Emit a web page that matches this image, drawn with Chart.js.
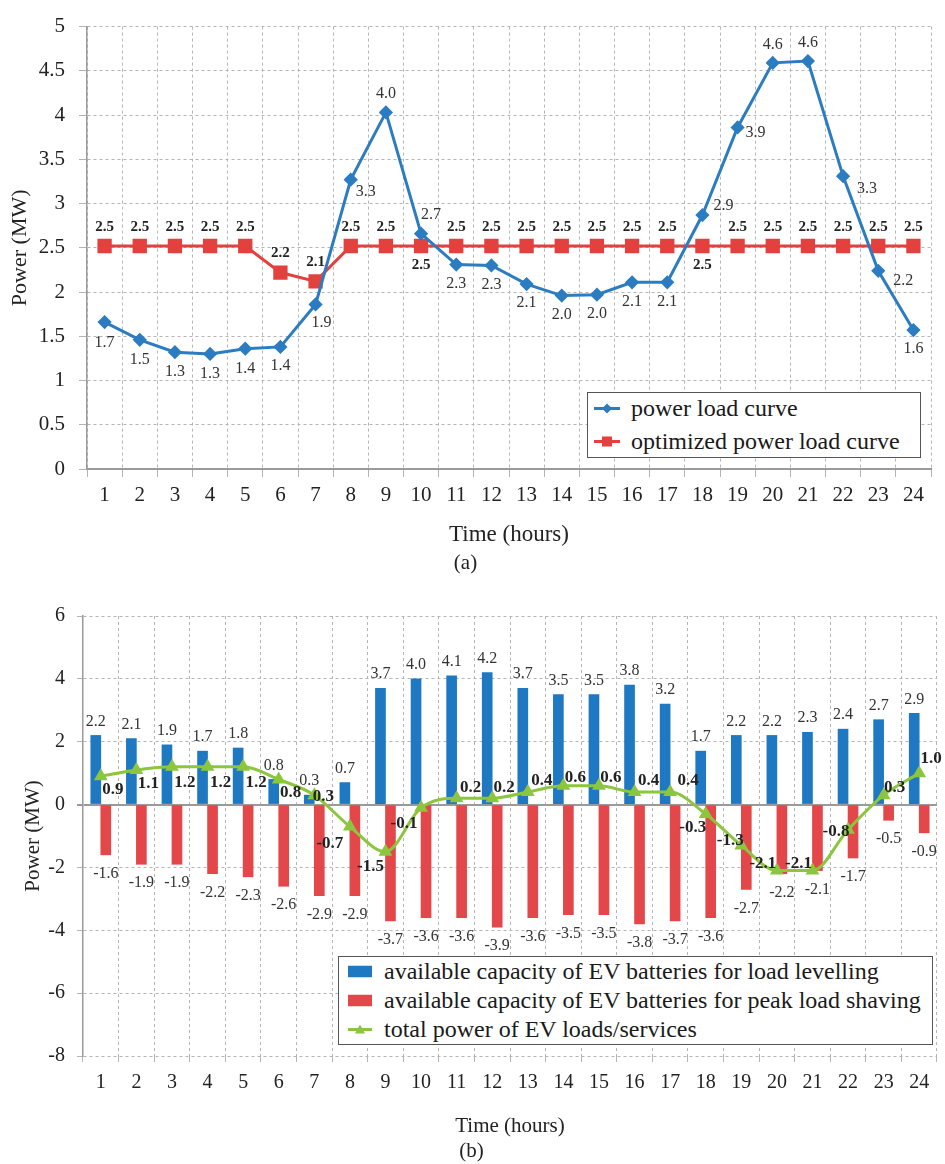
<!DOCTYPE html>
<html>
<head>
<meta charset="utf-8">
<script src="https://cdn.jsdelivr.net/npm/chart.js@4.4.1/dist/chart.umd.min.js"></script>
<style>
  body { margin: 0; background: #fff; }
  #page { position: relative; width: 945px; height: 1164px; overflow: hidden; font-family: "Liberation Serif", "DejaVu Serif", serif; color: #1a1a1a; }
  #chartA { position: absolute; left: 0; top: 0; }
  #chartB { position: absolute; left: 0; top: 580px; }
  .legend { position: absolute; background: #fff; border: 1.5px solid #555; box-sizing: border-box; font-size: 24px; }
  .legend .item { position: absolute; transform: translateY(-50%); display: flex; align-items: center; white-space: nowrap; }
  .legend svg { display: block; }
</style>
</head>
<body>
<div id="page">
  <canvas id="chartA" width="945" height="580"></canvas>
  <canvas id="chartB" width="945" height="584"></canvas>

  <div class="legend" style="left:587px;top:392px;width:334px;height:66px">
    <div class="item" style="left:6px;top:15px">
      <svg width="26" height="12"><line x1="0" y1="6" x2="26" y2="6" stroke="#2b7cc0" stroke-width="3"/><polygon points="13,1 18,6 13,11 8,6" fill="#2b7cc0"/></svg>
      <span style="margin-left:11px">power load curve</span>
    </div>
    <div class="item" style="left:6px;top:48px">
      <svg width="26" height="12"><line x1="0" y1="6" x2="26" y2="6" stroke="#e2413e" stroke-width="3"/><rect x="8" y="1" width="10" height="10" fill="#e2413e"/></svg>
      <span style="margin-left:11px">optimized power load curve</span>
    </div>
  </div>

  <div class="legend" style="left:338px;top:956px;width:595px;height:89px">
    <div class="item" style="left:9px;top:14px">
      <svg width="24" height="12"><rect x="0" y="0" width="24" height="12" fill="#1e78c2"/></svg>
      <span style="margin-left:12px">available capacity of EV batteries for load levelling</span>
    </div>
    <div class="item" style="left:9px;top:43px">
      <svg width="24" height="12"><rect x="0" y="0" width="24" height="12" fill="#e4474a"/></svg>
      <span style="margin-left:12px">available capacity of EV batteries for peak load shaving</span>
    </div>
    <div class="item" style="left:9px;top:72px">
      <svg width="24" height="12"><line x1="0" y1="6" x2="24" y2="6" stroke="#8cc63e" stroke-width="3"/><polygon points="12,1 17,10 7,10" fill="#8cc63e"/></svg>
      <span style="margin-left:12px">total power of EV loads/services</span>
    </div>
  </div>
</div>

<script>
const hours = ['1','2','3','4','5','6','7','8','9','10','11','12','13','14','15','16','17','18','19','20','21','22','23','24'];

// (a) load curves, MW
const loadCurve = [1.66, 1.46, 1.32, 1.30, 1.36, 1.38, 1.86, 3.27, 4.03, 2.66, 2.31, 2.30, 2.09, 1.96, 1.97, 2.11, 2.11, 2.87, 3.86, 4.59, 4.61, 3.31, 2.24, 1.57];
const optimizedCurve = [2.52, 2.52, 2.52, 2.52, 2.52, 2.22, 2.12, 2.52, 2.52, 2.52, 2.52, 2.52, 2.52, 2.52, 2.52, 2.52, 2.52, 2.52, 2.52, 2.52, 2.52, 2.52, 2.52, 2.52];
const yTicksA = [0, 0.5, 1, 1.5, 2, 2.5, 3, 3.5, 4, 4.5, 5];

// (b) EV batteries, MW
const loadLevelling = [2.2, 2.1, 1.9, 1.7, 1.8, 0.8, 0.3, 0.7, 3.7, 4.0, 4.1, 4.2, 3.7, 3.5, 3.5, 3.8, 3.2, 1.7, 2.2, 2.2, 2.3, 2.4, 2.7, 2.9];
const peakShaving = [-1.6, -1.9, -1.9, -2.2, -2.3, -2.6, -2.9, -2.9, -3.7, -3.6, -3.6, -3.9, -3.6, -3.5, -3.5, -3.8, -3.7, -3.6, -2.7, -2.2, -2.1, -1.7, -0.5, -0.9];
const evTotal = [0.9, 1.1, 1.2, 1.2, 1.2, 0.8, 0.3, -0.7, -1.5, -0.1, 0.2, 0.2, 0.4, 0.6, 0.6, 0.4, 0.4, -0.3, -1.3, -2.1, -2.1, -0.8, 0.3, 1.0];
const yTicksB = [-8, -6, -4, -2, 0, 2, 4, 6];

// label placement next to each point [dx, dy]
const offLoad = [[0,21],[0,20],[0,20],[0,20],[0,20],[0,19],[6,18],[15,12],[0,-19],[10,-19],[0,19],[0,19],[0,19],[0,19],[0,19],[0,19],[0,19],[21,-9],[18,5],[0,-18],[0,-18],[24,13],[25,10],[0,19]];
const offOpt = hours.map((h, i) => (i === 9 || i === 17) ? [0, 19] : [0, -19]);
const offTotal = [[12,13],[12,14],[13,16],[13,16],[13,16],[12,13],[9,1],[-20,17],[-15,15],[-17,16],[14,-11],[12,-11],[14,-11],[12,-8],[12,-8],[14,-11],[18,-11],[-13,14],[-11,-5],[-14,-7],[-14,-7],[-12,2],[11,-8],[12,-15]];

const serif = '"Liberation Serif", "DejaVu Serif", serif';

const valueLabels = {
  id: 'valueLabels',
  afterDatasetsDraw(chart) {
    const ctx = chart.ctx;
    chart.data.datasets.forEach((ds, i) => {
      if (!ds.valueLabel) return;
      const meta = chart.getDatasetMeta(i);
      ctx.save();
      ctx.font = ds.valueLabel.font;
      ctx.fillStyle = ds.valueLabel.color;
      ctx.textAlign = 'center';
      ctx.textBaseline = 'middle';
      meta.data.forEach((el, j) => {
        const [dx, dy] = ds.valueLabel.offset(j);
        ctx.fillText(ds.data[j].toFixed(1), el.x + dx, el.y + dy);
      });
      ctx.restore();
    });
  }
};

const gridColor = '#b5b5b5';
const axisColor = '#9a9a9a';
const tickColor = '#222';

new Chart(document.getElementById('chartA'), {
  type: 'line',
  data: {
    labels: hours,
    datasets: [
      {
        label: 'power load curve',
        data: loadCurve,
        borderColor: '#2b7cc0',
        backgroundColor: '#2b7cc0',
        borderWidth: 3,
        pointStyle: 'rectRot',
        pointRadius: 5,
        tension: 0,
        valueLabel: { font: '16px ' + serif, color: '#333', offset: j => offLoad[j] }
      },
      {
        label: 'optimized power load curve',
        data: optimizedCurve,
        borderColor: '#e2413e',
        backgroundColor: '#e2413e',
        borderWidth: 3,
        pointStyle: 'rect',
        pointRadius: 8,
        tension: 0,
        valueLabel: { font: 'bold 15px ' + serif, color: '#222', offset: j => offOpt[j] }
      }
    ]
  },
  options: {
    responsive: false,
    animation: false,
    layout: { padding: { top: 21, right: 14, left: 0, bottom: 0 } },
    plugins: {
      legend: { display: false },
      tooltip: { enabled: false },
      title: {
        display: true, text: '(a)', position: 'bottom', color: tickColor,
        font: { family: serif, size: 21, weight: 'normal' },
        padding: { top: 0, bottom: 3.6 }
      }
    },
    scales: {
      x: {
        offset: true,
        grid: { offset: true, color: gridColor, lineWidth: 1, tickLength: 8 },
        border: { display: true, color: axisColor, width: 2, dash: [3, 3] },
        ticks: { color: tickColor, padding: 6, font: { family: serif, size: 21 } },
        title: { display: true, text: 'Time (hours)', color: tickColor, font: { family: serif, size: 23 }, padding: { top: 0, bottom: 2.4 } },
        afterFit: s => { s.height = 82.2; }
      },
      y: {
        min: 0, max: 5,
        afterBuildTicks: s => { s.ticks = yTicksA.map(v => ({ value: v })); },
        grid: { color: gridColor, lineWidth: 1, tickLength: 8 },
        border: { display: true, color: axisColor, width: 1.5, dash: [3, 3] },
        ticks: { color: tickColor, padding: 14, font: { family: serif, size: 21 }, callback: v => String(v) },
        title: { display: true, text: 'Power (MW)', color: tickColor, font: { family: serif, size: 22 }, padding: { top: 6.8, bottom: 0 } },
        afterFit: s => { s.width = 87; }
      }
    }
  },
  plugins: [valueLabels]
});

new Chart(document.getElementById('chartB'), {
  type: 'bar',
  data: {
    labels: hours,
    datasets: [
      {
        type: 'line',
        label: 'total power of EV loads/services',
        data: evTotal,
        order: 0,
        borderColor: '#8cc63e',
        backgroundColor: '#8cc63e',
        borderWidth: 3,
        pointStyle: 'triangle',
        pointRadius: 5,
        cubicInterpolationMode: 'monotone',
        valueLabel: { font: 'bold 17px ' + serif, color: '#222', offset: j => offTotal[j] }
      },
      {
        label: 'available capacity of EV batteries for load levelling',
        data: loadLevelling,
        order: 1,
        backgroundColor: '#1e78c2',
        barThickness: 10,
        valueLabel: { font: '16px ' + serif, color: '#333', offset: () => [0, -14] }
      },
      {
        label: 'available capacity of EV batteries for peak load shaving',
        data: peakShaving,
        order: 1,
        backgroundColor: '#e4474a',
        barThickness: 10,
        valueLabel: { font: '16px ' + serif, color: '#333', offset: () => [0, 19] }
      }
    ]
  },
  options: {
    responsive: false,
    animation: false,
    layout: { padding: { top: 36, right: 2, left: 0, bottom: 0 } },
    plugins: {
      legend: { display: false },
      tooltip: { enabled: false },
      title: {
        display: true, text: '(b)', position: 'bottom', color: tickColor,
        font: { family: serif, size: 21, weight: 'normal' },
        padding: { top: 0, bottom: 0 }
      }
    },
    scales: {
      x: {
        offset: true,
        grid: { offset: true, color: gridColor, lineWidth: 1, tickLength: 6 },
        border: { display: false, dash: [3, 3] },
        ticks: { color: tickColor, padding: 9, font: { family: serif, size: 20 } },
        title: { display: true, text: 'Time (hours)', color: tickColor, font: { family: serif, size: 21 }, padding: { top: 0, bottom: 0.2 } },
        afterFit: s => { s.height = 82.8; }
      },
      y: {
        min: -8, max: 6,
        afterBuildTicks: s => { s.ticks = yTicksB.map(v => ({ value: v })); },
        grid: {
          color: c => (c.tick && c.tick.value === 0) ? axisColor : gridColor,
          lineWidth: c => (c.tick && c.tick.value === 0) ? 2 : 1,
          tickLength: 6
        },
        border: { display: true, color: axisColor, width: 1.5, dash: c => (c.tick && c.tick.value === 0) ? [] : [3, 3] },
        ticks: { color: tickColor, padding: 12, font: { family: serif, size: 20 }, callback: v => String(v) },
        title: { display: true, text: 'Power (MW)', color: tickColor, font: { family: serif, size: 21 }, padding: { top: 20.4, bottom: 0 } },
        afterFit: s => { s.width = 83; }
      }
    }
  },
  plugins: [valueLabels]
});
</script>
</body>
</html>
